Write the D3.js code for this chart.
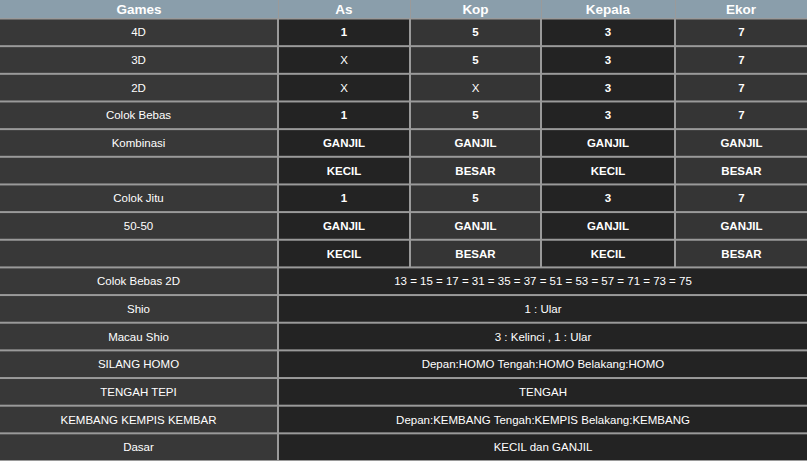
<!DOCTYPE html>
<html><head><meta charset="utf-8">
<script src="https://cdn.jsdelivr.net/npm/d3@7"></script>
<style>body{margin:0;background:#2a2a2a}svg{display:block}</style>
</head><body><svg id="c" width="807" height="461"></svg>
<script>
const headers = ["Games","As","Kop","Kepala","Ekor"];
const games = ["4D","3D","2D","Colok Bebas","Kombinasi","","Colok Jitu","50-50","","Colok Bebas 2D","Shio","Macau Shio","SILANG HOMO","TENGAH TEPI","KEMBANG KEMPIS KEMBAR","Dasar"];
const asVals =    ["1","X","X","1","GANJIL","KECIL","1","GANJIL","KECIL"];
const kopVals =   ["5","5","X","5","GANJIL","BESAR","5","GANJIL","BESAR"];
const kepalaVals =["3","3","3","3","GANJIL","KECIL","3","GANJIL","KECIL"];
const ekorVals =  ["7","7","7","7","GANJIL","BESAR","7","GANJIL","BESAR"];
const mergedVals = ["13 = 15 = 17 = 31 = 35 = 37 = 51 = 53 = 57 = 71 = 73 = 75","1 : Ular","3 : Kelinci , 1 : Ular","Depan:HOMO Tengah:HOMO Belakang:HOMO","TENGAH","Depan:KEMBANG Tengah:KEMPIS Belakang:KEMBANG","KECIL dan GANJIL"];

const colEdges = [0,278,410,541,675,807];
const svg = d3.select("#c");
svg.append("rect").attr("width",807).attr("height",461).attr("fill","#9a9a9a");
const y = d3.scaleLinear().domain([0,16]).range([19.5,462]);
const colBg = ["#383838","#232323","#353535","#232323","#353535"];
for(let c=0;c<5;c++){
  svg.append("rect").attr("x",colEdges[c]+(c?1:0)).attr("y",0).attr("width",colEdges[c+1]-colEdges[c]-(c?1:0)).attr("height",18).attr("fill","#8a9eab");
  svg.append("text").attr("x",(colEdges[c]+colEdges[c+1])/2).attr("y",14).attr("text-anchor","middle")
    .attr("font-family","Liberation Sans, Arial").attr("font-weight","bold").attr("font-size",13.5).attr("fill","#fff").text(headers[c]);
}
const cols=[asVals,kopVals,kepalaVals,ekorVals];
function cell(x0,x1,r,fill,txt,bold){
  svg.append("rect").attr("x",x0).attr("y",y(r)).attr("width",x1-x0).attr("height",y(r+1)-y(r)-2).attr("fill",fill);
  svg.append("text").attr("x",(x0+x1)/2).attr("y",(y(r)+y(r+1))/2+3).attr("text-anchor","middle")
    .attr("font-family","Liberation Sans, Arial").attr("font-weight",bold?"bold":"normal").attr("font-size",11.5).attr("fill","#fff").text(txt);
}
games.forEach((g,r)=>{
  cell(0,277,r,colBg[0],g,false);
  if(r<9){
    cols.forEach((arr,i)=>cell(colEdges[i+1]+1,colEdges[i+2]-(i==3?0:1),r,colBg[i+1],arr[r],arr[r]!=="X"));
  } else {
    cell(279,807,r,"#232323",mergedVals[r-9],false);
  }
});
</script></body></html>
